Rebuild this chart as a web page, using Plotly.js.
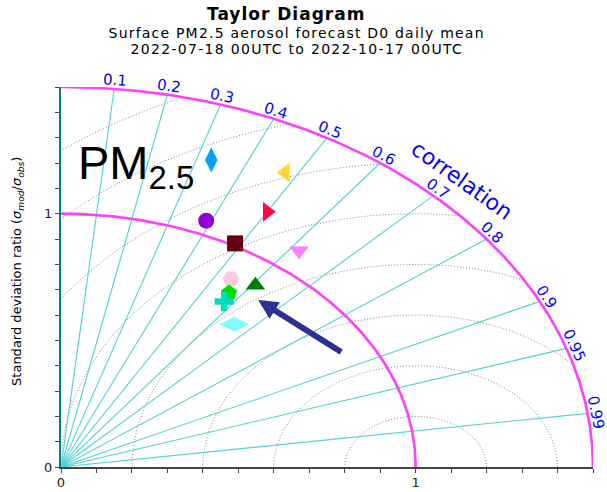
<!DOCTYPE html>
<html>
<head>
<meta charset="utf-8">
<script src="https://cdn.plot.ly/plotly-3.0.1.min.js"></script>
<style>html,body{margin:0;padding:0;background:#fff;}#chart{width:607px;height:492px;}</style>
</head>
<body>
<div id="chart"></div>
<script>
// ---- data ----
const stdRatio    = [1.710, 1.284, 1.323, 1.163, 1.055, 1.010, 1.086, 0.884, 0.903, 0.834, 0.799, 0.746];
const correlation = [0.450, 0.330, 0.478, 0.500, 0.388, 0.486, 0.618, 0.542, 0.607, 0.568, 0.576, 0.655];
const markerSymbols = ['hexagon2','diamond-tall','triangle-left','triangle-right','circle','square',
                       'triangle-down','hexagon2','triangle-up','pentagon','cross','diamond-wide'];
const markerColors  = ['#003f87','#08a0f8','#ffd43b','#ff0a40','#9400d8','#660011',
                       '#ff80ff','#ffccdd','#008000','#00dd00','#00ddbb','#80ffff'];
const markerSizes   = [17,18,17,17,16,16,17,17,17,17,16,21];

const corrTicks      = [0.1, 0.2, 0.3, 0.4, 0.5, 0.6, 0.7, 0.8, 0.9, 0.95, 0.99];
const corrTickLabels = ['0.1','0.2','0.3','0.4','0.5','0.6','0.7','0.8','0.9','0.95','0.99'];
const rmsRadii   = [0.2, 0.4, 0.6, 0.8, 1.0, 1.2, 1.4, 1.6];
const stdArcs    = [1.0, 1.5];
const stdMax     = 1.5;
const axisTickVals  = [0, 1];
const axisTickText  = ['0', '1'];
const minorTickStep = 0.1;
const arrowTail = {std: 0.913, corr: 0.870};
const arrowTip  = {std: 0.862, corr: 0.645};

// ---- layout geometry ----
const W = 607, H = 492;
const M = {l: 61, r: 14, t: 87, b: 25};
const pxX = (W - M.l - M.r) / stdMax;   // pixels per unit, x
const pxY = (H - M.t - M.b) / stdMax;   // pixels per unit, y

const toXY = (r, c) => [r * c, r * Math.sqrt(Math.max(0, 1 - c * c))];

const traces = [];

// RMS (centred) dotted arcs around (1,0)
{
  const xs = [], ys = [];
  rmsRadii.forEach(R => {
    let open = false;
    for (let i = 0; i <= 600; i++) {
      const t = Math.PI * i / 600;
      const x = 1 + R * Math.cos(t), y = R * Math.sin(t);
      const inside = x >= 0 && y >= 0 && (x * x + y * y) <= stdMax * stdMax + 1e-9;
      if (inside) { xs.push(x); ys.push(y); open = true; }
      else if (open) { xs.push(null); ys.push(null); open = false; }
    }
    xs.push(null); ys.push(null);
  });
  traces.push({x: xs, y: ys, mode: 'lines', line: {color: '#858585', width: 1, dash: '1px,2px'},
               hoverinfo: 'skip'});
}

// correlation rays
{
  const xs = [], ys = [];
  corrTicks.forEach(c => {
    const [x, y] = toXY(stdMax, c);
    xs.push(0, x, null); ys.push(0, y, null);
  });
  traces.push({x: xs, y: ys, mode: 'lines', line: {color: '#4fd3cf', width: 1.1}, hoverinfo: 'skip'});
}

// std ratio arcs (magenta)
stdArcs.forEach(r => {
  const xs = [], ys = [];
  for (let i = 0; i <= 300; i++) {
    const t = (Math.PI / 2) * i / 300;
    xs.push(r * Math.cos(t)); ys.push(r * Math.sin(t));
  }
  traces.push({x: xs, y: ys, mode: 'lines', line: {color: '#ff40ff', width: 2.6}, hoverinfo: 'skip', cliponaxis: false});
});

// model points
{
  const xs = [], ys = [];
  stdRatio.forEach((r, i) => { const p = toXY(r, correlation[i]); xs.push(p[0]); ys.push(p[1]); });
  traces.push({x: xs, y: ys, mode: 'markers', cliponaxis: false,
               marker: {symbol: markerSymbols, color: markerColors, size: markerSizes, opacity: 1, line: {width: 0}},
               hoverinfo: 'skip'});
}

// ---- annotations ----
const annotations = [];
const FONT = 'DejaVu Sans, sans-serif';

// correlation tick labels
corrTicks.forEach((c, i) => {
  const phi = Math.acos(c);
  const [x, y] = toXY(stdMax, c);
  let nx = Math.cos(phi) * pxY, ny = Math.sin(phi) * pxX;
  const nl = Math.hypot(nx, ny); nx /= nl; ny /= nl;
  const alpha = Math.atan((pxY / pxX) / Math.tan(phi)) * 180 / Math.PI;
  const d = 8.5;
  annotations.push({x: x, y: y, xref: 'x', yref: 'y', text: corrTickLabels[i], showarrow: false,
    xanchor: 'center', yanchor: 'middle', xshift: d * nx, yshift: d * ny, textangle: alpha,
    font: {family: FONT, size: 15, color: '#0000ff'}});
});

// "correlation" label
{
  const phi = Math.PI / 4, r = 1.6;
  const alpha = Math.atan((pxY / pxX) / Math.tan(phi)) * 180 / Math.PI;
  annotations.push({x: r * Math.cos(phi), y: r * Math.sin(phi), xref: 'x', yref: 'y', text: 'correlation',
    showarrow: false, xanchor: 'center', yanchor: 'middle', textangle: alpha,
    font: {family: FONT, size: 22, color: '#0000ff'}});
}

// PM2.5 label
annotations.push({x: 0.042, y: 1.19, xref: 'x', yref: 'y', xanchor: 'left', yanchor: 'middle',
  text: 'PM<sub>2.5</sub>', showarrow: false,
  font: {family: 'Liberation Sans, Arial, sans-serif', size: 47, color: '#000'}});

// arrow
{
  const tip = toXY(arrowTip.std, arrowTip.corr), tail = toXY(arrowTail.std, arrowTail.corr);
  annotations.push({x: tip[0], y: tip[1], ax: tail[0], ay: tail[1], axref: 'x', ayref: 'y',
    xref: 'x', yref: 'y', text: '', showarrow: true, arrowhead: 2, arrowsize: 0.65, arrowwidth: 6,
    arrowcolor: '#2e3192', standoff: 0});
}

// titles
const TITLE_MAIN = 'Taylor Diagram';
const TITLE_SUB1 = 'Surface PM2.5 aerosol forecast D0 daily mean';
const TITLE_SUB2 = '2022-07-18 00UTC to 2022-10-17 00UTC';
annotations.push({xref: 'paper', yref: 'paper', x: 0.423, y: 1.191, xanchor: 'center', yanchor: 'middle',
  text: '<b>' + TITLE_MAIN + '</b>', showarrow: false, font: {family: FONT, size: 17, color: '#000'}});
annotations.push({xref: 'paper', yref: 'paper', x: 0.4436, y: 1.141, xanchor: 'center', yanchor: 'middle',
  text: TITLE_SUB1, showarrow: false, font: {family: FONT, size: 14, color: '#000'}});
annotations.push({xref: 'paper', yref: 'paper', x: 0.4436, y: 1.099, xanchor: 'center', yanchor: 'middle',
  text: TITLE_SUB2, showarrow: false, font: {family: FONT, size: 14, color: '#000'}});

// y axis title
annotations.push({xref: 'paper', yref: 'y', x: 0, xshift: -43, y: 0.77, xanchor: 'center', yanchor: 'middle',
  textangle: -90, showarrow: false,
  text: 'Standard deviation ratio (<i>σ</i><sub><i>mod</i></sub>/<i>σ</i><sub><i>obs</i></sub>)',
  font: {family: FONT, size: 13, color: '#000'}});

const axisCommon = {
  range: [0, stdMax], showgrid: false, zeroline: false, showline: true,
  ticks: 'outside', ticklen: 4, tickwidth: 1, tickcolor: '#444',
  tickmode: 'array', tickvals: axisTickVals, ticktext: axisTickText,
  minor: {tickmode: 'linear', tick0: 0, dtick: minorTickStep, ticks: 'outside', ticklen: 4,
          tickwidth: 1, tickcolor: '#444', showgrid: false},
  tickfont: {family: FONT, size: 13, color: '#222'}, fixedrange: true
};

const layout = {
  width: W, height: H,
  margin: {l: M.l, r: M.r, t: M.t, b: M.b, pad: 0},
  paper_bgcolor: '#fff', plot_bgcolor: '#fff',
  showlegend: false, hovermode: false,
  xaxis: Object.assign({}, axisCommon, {linecolor: '#444', linewidth: 1.5, ticklabelstandoff: -1}),
  yaxis: Object.assign({}, axisCommon, {linecolor: '#008080', linewidth: 2}),
  annotations: annotations
};

Plotly.newPlot('chart', traces, layout, {displayModeBar: false, staticPlot: true}).then(gd => {
  // widen title lines slightly (the reference lettering is broad)
  const spacing = {};
  spacing[TITLE_MAIN] = '1px';
  spacing[TITLE_SUB1] = '1.2px';
  spacing[TITLE_SUB2] = '1.3px';
  gd.querySelectorAll('.annotation-text').forEach(t => {
    const s = spacing[t.textContent];
    if (s) t.style.letterSpacing = s;
  });
});
</script>
</body>
</html>
